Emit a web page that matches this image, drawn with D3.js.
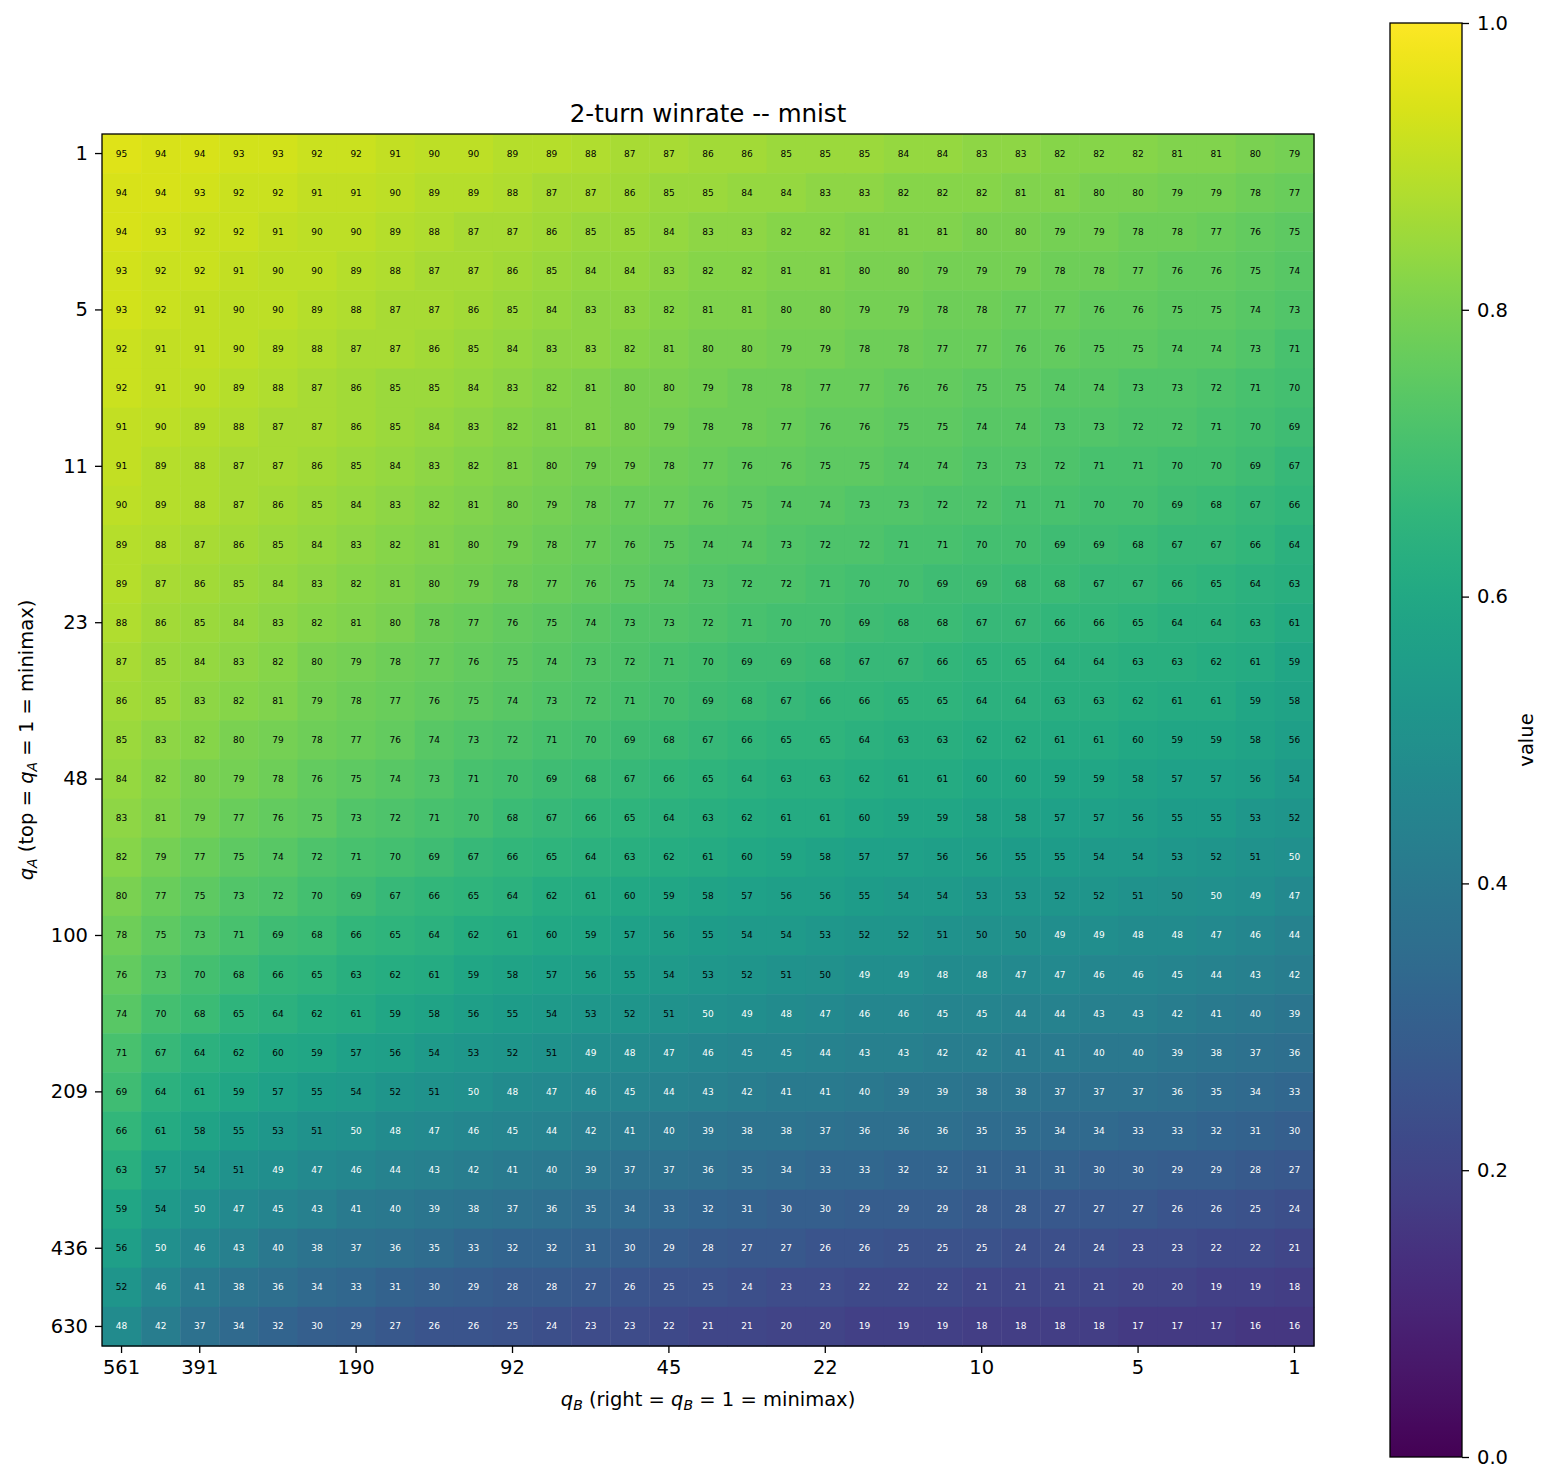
<!DOCTYPE html>
<html>
<head>
<meta charset="utf-8">
<title>2-turn winrate -- mnist</title>
<script src="https://cdn.jsdelivr.net/npm/d3@7"></script>
<style>
  body { margin: 0; background: #fff; }
  svg text { font-family: "DejaVu Sans", sans-serif; }
</style>
</head>
<body>
<div id="chart"></div>
<script>
// winrate in percent, rows = q_A (top = 1), columns = q_B (left = 561 ... right = 1)
var winrate = [
  [95,94,94,93,93,92,92,91,90,90,89,89,88,87,87,86,86,85,85,85,84,84,83,83,82,82,82,81,81,80,79],
  [94,94,93,92,92,91,91,90,89,89,88,87,87,86,85,85,84,84,83,83,82,82,82,81,81,80,80,79,79,78,77],
  [94,93,92,92,91,90,90,89,88,87,87,86,85,85,84,83,83,82,82,81,81,81,80,80,79,79,78,78,77,76,75],
  [93,92,92,91,90,90,89,88,87,87,86,85,84,84,83,82,82,81,81,80,80,79,79,79,78,78,77,76,76,75,74],
  [93,92,91,90,90,89,88,87,87,86,85,84,83,83,82,81,81,80,80,79,79,78,78,77,77,76,76,75,75,74,73],
  [92,91,91,90,89,88,87,87,86,85,84,83,83,82,81,80,80,79,79,78,78,77,77,76,76,75,75,74,74,73,71],
  [92,91,90,89,88,87,86,85,85,84,83,82,81,80,80,79,78,78,77,77,76,76,75,75,74,74,73,73,72,71,70],
  [91,90,89,88,87,87,86,85,84,83,82,81,81,80,79,78,78,77,76,76,75,75,74,74,73,73,72,72,71,70,69],
  [91,89,88,87,87,86,85,84,83,82,81,80,79,79,78,77,76,76,75,75,74,74,73,73,72,71,71,70,70,69,67],
  [90,89,88,87,86,85,84,83,82,81,80,79,78,77,77,76,75,74,74,73,73,72,72,71,71,70,70,69,68,67,66],
  [89,88,87,86,85,84,83,82,81,80,79,78,77,76,75,74,74,73,72,72,71,71,70,70,69,69,68,67,67,66,64],
  [89,87,86,85,84,83,82,81,80,79,78,77,76,75,74,73,72,72,71,70,70,69,69,68,68,67,67,66,65,64,63],
  [88,86,85,84,83,82,81,80,78,77,76,75,74,73,73,72,71,70,70,69,68,68,67,67,66,66,65,64,64,63,61],
  [87,85,84,83,82,80,79,78,77,76,75,74,73,72,71,70,69,69,68,67,67,66,65,65,64,64,63,63,62,61,59],
  [86,85,83,82,81,79,78,77,76,75,74,73,72,71,70,69,68,67,66,66,65,65,64,64,63,63,62,61,61,59,58],
  [85,83,82,80,79,78,77,76,74,73,72,71,70,69,68,67,66,65,65,64,63,63,62,62,61,61,60,59,59,58,56],
  [84,82,80,79,78,76,75,74,73,71,70,69,68,67,66,65,64,63,63,62,61,61,60,60,59,59,58,57,57,56,54],
  [83,81,79,77,76,75,73,72,71,70,68,67,66,65,64,63,62,61,61,60,59,59,58,58,57,57,56,55,55,53,52],
  [82,79,77,75,74,72,71,70,69,67,66,65,64,63,62,61,60,59,58,57,57,56,56,55,55,54,54,53,52,51,49.7],
  [80,77,75,73,72,70,69,67,66,65,64,62,61,60,59,58,57,56,56,55,54,54,53,53,52,52,51,50.2,49.7,49,47],
  [78,75,73,71,69,68,66,65,64,62,61,60,59,57,56,55,54,54,53,52,52,51,50.2,50.2,49,49,48,48,47,46,44],
  [76,73,70,68,66,65,63,62,61,59,58,57,56,55,54,53,52,51,50.2,49,49,48,48,47,47,46,46,45,44,43,42],
  [74,70,68,65,64,62,61,59,58,56,55,54,53,52,51,49.7,49,48,47,46,46,45,45,44,44,43,43,42,41,40,39],
  [71,67,64,62,60,59,57,56,54,53,52,51,49,48,47,46,45,45,44,43,43,42,42,41,41,40,40,39,38,37,36],
  [69,64,61,59,57,55,54,52,51,49.7,48,47,46,45,44,43,42,41,41,40,39,39,38,38,37,37,37,36,35,34,33],
  [66,61,58,55,53,51,49.7,48,47,46,45,44,42,41,40,39,38,38,37,36,36,36,35,35,34,34,33,33,32,31,30],
  [63,57,54,51,49,47,46,44,43,42,41,40,39,37,37,36,35,34,33,33,32,32,31,31,31,30,30,29,29,28,27],
  [59,54,49.7,47,45,43,41,40,39,38,37,36,35,34,33,32,31,30,30,29,29,29,28,28,27,27,27,26,26,25,24],
  [56,49.7,46,43,40,38,37,36,35,33,32,32,31,30,29,28,27,27,26,26,25,25,25,24,24,24,23,23,22,22,21],
  [52,46,41,38,36,34,33,31,30,29,28,28,27,26,25,25,24,23,23,22,22,22,21,21,21,21,20,20,19,19,18],
  [48,42,37,34,32,30,29,27,26,26,25,24,23,23,22,21,21,20,20,19,19,19,18,18,18,18,17,17,17,16,16]
];

var qATickRows = [0, 4, 8, 12, 16, 20, 24, 28, 30];
var qATickLabels = ["1", "5", "11", "23", "48", "100", "209", "436", "630"];
var qBTickCols = [0, 2, 6, 10, 14, 18, 22, 26, 30];
var qBTickLabels = ["561", "391", "190", "92", "45", "22", "10", "5", "1"];
var cbarTicks = [0, 0.2, 0.4, 0.6, 0.8, 1.0];

var W = 1552, H = 1484;
var nRows = winrate.length, nCols = winrate[0].length;
var plotLeft = 102, plotTop = 134, plotSize = 1212;
var tickFont = 19.5;

var svg = d3.select("#chart").append("svg")
  .attr("width", W)
  .attr("height", H);

var x = d3.scaleBand().domain(d3.range(nCols)).range([plotLeft, plotLeft + plotSize]).padding(0);
var y = d3.scaleBand().domain(d3.range(nRows)).range([plotTop, plotTop + plotSize]).padding(0);
var color = d3.scaleSequential(d3.interpolateViridis).domain([0, 1]);

var cells = [];
winrate.forEach(function(row, i) {
  row.forEach(function(v, j) { cells.push({ r: i, c: j, v: v / 100 }); });
});

svg.append("g").selectAll("rect")
  .data(cells)
  .enter().append("rect")
  .attr("x", function(d) { return x(d.c); })
  .attr("y", function(d) { return y(d.r); })
  .attr("width", x.bandwidth() + 0.5)
  .attr("height", y.bandwidth() + 0.5)
  .attr("fill", function(d) { return color(d.v); });

svg.append("g").selectAll("text")
  .data(cells)
  .enter().append("text")
  .attr("x", function(d) { return x(d.c) + x.bandwidth() / 2; })
  .attr("y", function(d) { return y(d.r) + y.bandwidth() / 2; })
  .attr("text-anchor", "middle")
  .attr("dominant-baseline", "central")
  .attr("font-size", 9)
  .attr("fill", function(d) { return d.v < 0.5 ? "#ffffff" : "#000000"; })
  .text(function(d) { return Math.round(d.v * 100); });

svg.append("rect")
  .attr("x", plotLeft).attr("y", plotTop)
  .attr("width", plotSize).attr("height", plotSize)
  .attr("fill", "none").attr("stroke", "#000").attr("stroke-width", 1.3);

// axes
var yAxis = d3.axisLeft(y)
  .tickValues(qATickRows)
  .tickFormat(function(d) { return qATickLabels[qATickRows.indexOf(d)]; })
  .tickSize(7).tickPadding(7);
var gy = svg.append("g").attr("transform", "translate(" + plotLeft + ",0)").call(yAxis);

var xAxis = d3.axisBottom(x)
  .tickValues(qBTickCols)
  .tickFormat(function(d) { return qBTickLabels[qBTickCols.indexOf(d)]; })
  .tickSize(7).tickPadding(7);
var gx = svg.append("g").attr("transform", "translate(0," + (plotTop + plotSize) + ")").call(xAxis);

[gx, gy].forEach(function(g) {
  g.select(".domain").remove();
  g.selectAll("text").attr("font-size", tickFont).attr("fill", "#000")
    .attr("font-family", "DejaVu Sans, sans-serif");
  g.selectAll("line").attr("stroke", "#000").attr("stroke-width", 1.3);
});

// title
svg.append("text")
  .attr("x", plotLeft + plotSize / 2).attr("y", 122)
  .attr("text-anchor", "middle")
  .attr("font-size", 24.5)
  .text("2-turn winrate -- mnist");

// x label
var xl = svg.append("text")
  .attr("x", plotLeft + plotSize / 2).attr("y", 1406)
  .attr("text-anchor", "middle")
  .attr("font-size", tickFont);
xl.append("tspan").attr("font-style", "italic").text("q");
xl.append("tspan").attr("font-size", 14).attr("dy", 4).attr("font-style", "italic").text("B");
xl.append("tspan").attr("dy", -4).text(" (right = ");
xl.append("tspan").attr("font-style", "italic").text("q");
xl.append("tspan").attr("font-size", 14).attr("dy", 4).attr("font-style", "italic").text("B");
xl.append("tspan").attr("dy", -4).text(" = 1 = minimax)");

// y label
var yl = svg.append("text")
  .attr("transform", "translate(33," + (plotTop + plotSize / 2) + ") rotate(-90)")
  .attr("text-anchor", "middle")
  .attr("font-size", tickFont);
yl.append("tspan").attr("font-style", "italic").text("q");
yl.append("tspan").attr("font-size", 14).attr("dy", 4).attr("font-style", "italic").text("A");
yl.append("tspan").attr("dy", -4).text(" (top = ");
yl.append("tspan").attr("font-style", "italic").text("q");
yl.append("tspan").attr("font-size", 14).attr("dy", 4).attr("font-style", "italic").text("A");
yl.append("tspan").attr("dy", -4).text(" = 1 = minimax)");

// colorbar
var cbX = 1390, cbW = 72, cbTop = 23, cbBot = 1457;
var defs = svg.append("defs");
var grad = defs.append("linearGradient").attr("id", "viridis")
  .attr("x1", "0").attr("y1", "1").attr("x2", "0").attr("y2", "0");
grad.selectAll("stop")
  .data(d3.range(0, 1.0001, 0.02))
  .enter().append("stop")
  .attr("offset", function(d) { return d; })
  .attr("stop-color", function(d) { return color(d); });

svg.append("rect")
  .attr("x", cbX).attr("y", cbTop)
  .attr("width", cbW).attr("height", cbBot - cbTop)
  .attr("fill", "url(#viridis)")
  .attr("stroke", "#000").attr("stroke-width", 1.3);

var cy = d3.scaleLinear().domain([0, 1]).range([cbBot, cbTop]);
var gc = svg.append("g").attr("transform", "translate(" + (cbX + cbW) + ",0)")
  .call(d3.axisRight(cy).tickValues(cbarTicks).tickFormat(d3.format(".1f")).tickSize(7).tickPadding(8));
gc.select(".domain").remove();
gc.selectAll("text").attr("font-size", tickFont).attr("fill", "#000")
  .attr("font-family", "DejaVu Sans, sans-serif");
gc.selectAll("line").attr("stroke", "#000").attr("stroke-width", 1.3);

svg.append("text")
  .attr("transform", "translate(1533," + ((cbTop + cbBot) / 2) + ") rotate(-90)")
  .attr("text-anchor", "middle")
  .attr("font-size", tickFont)
  .text("value");
</script>
</body>
</html>
